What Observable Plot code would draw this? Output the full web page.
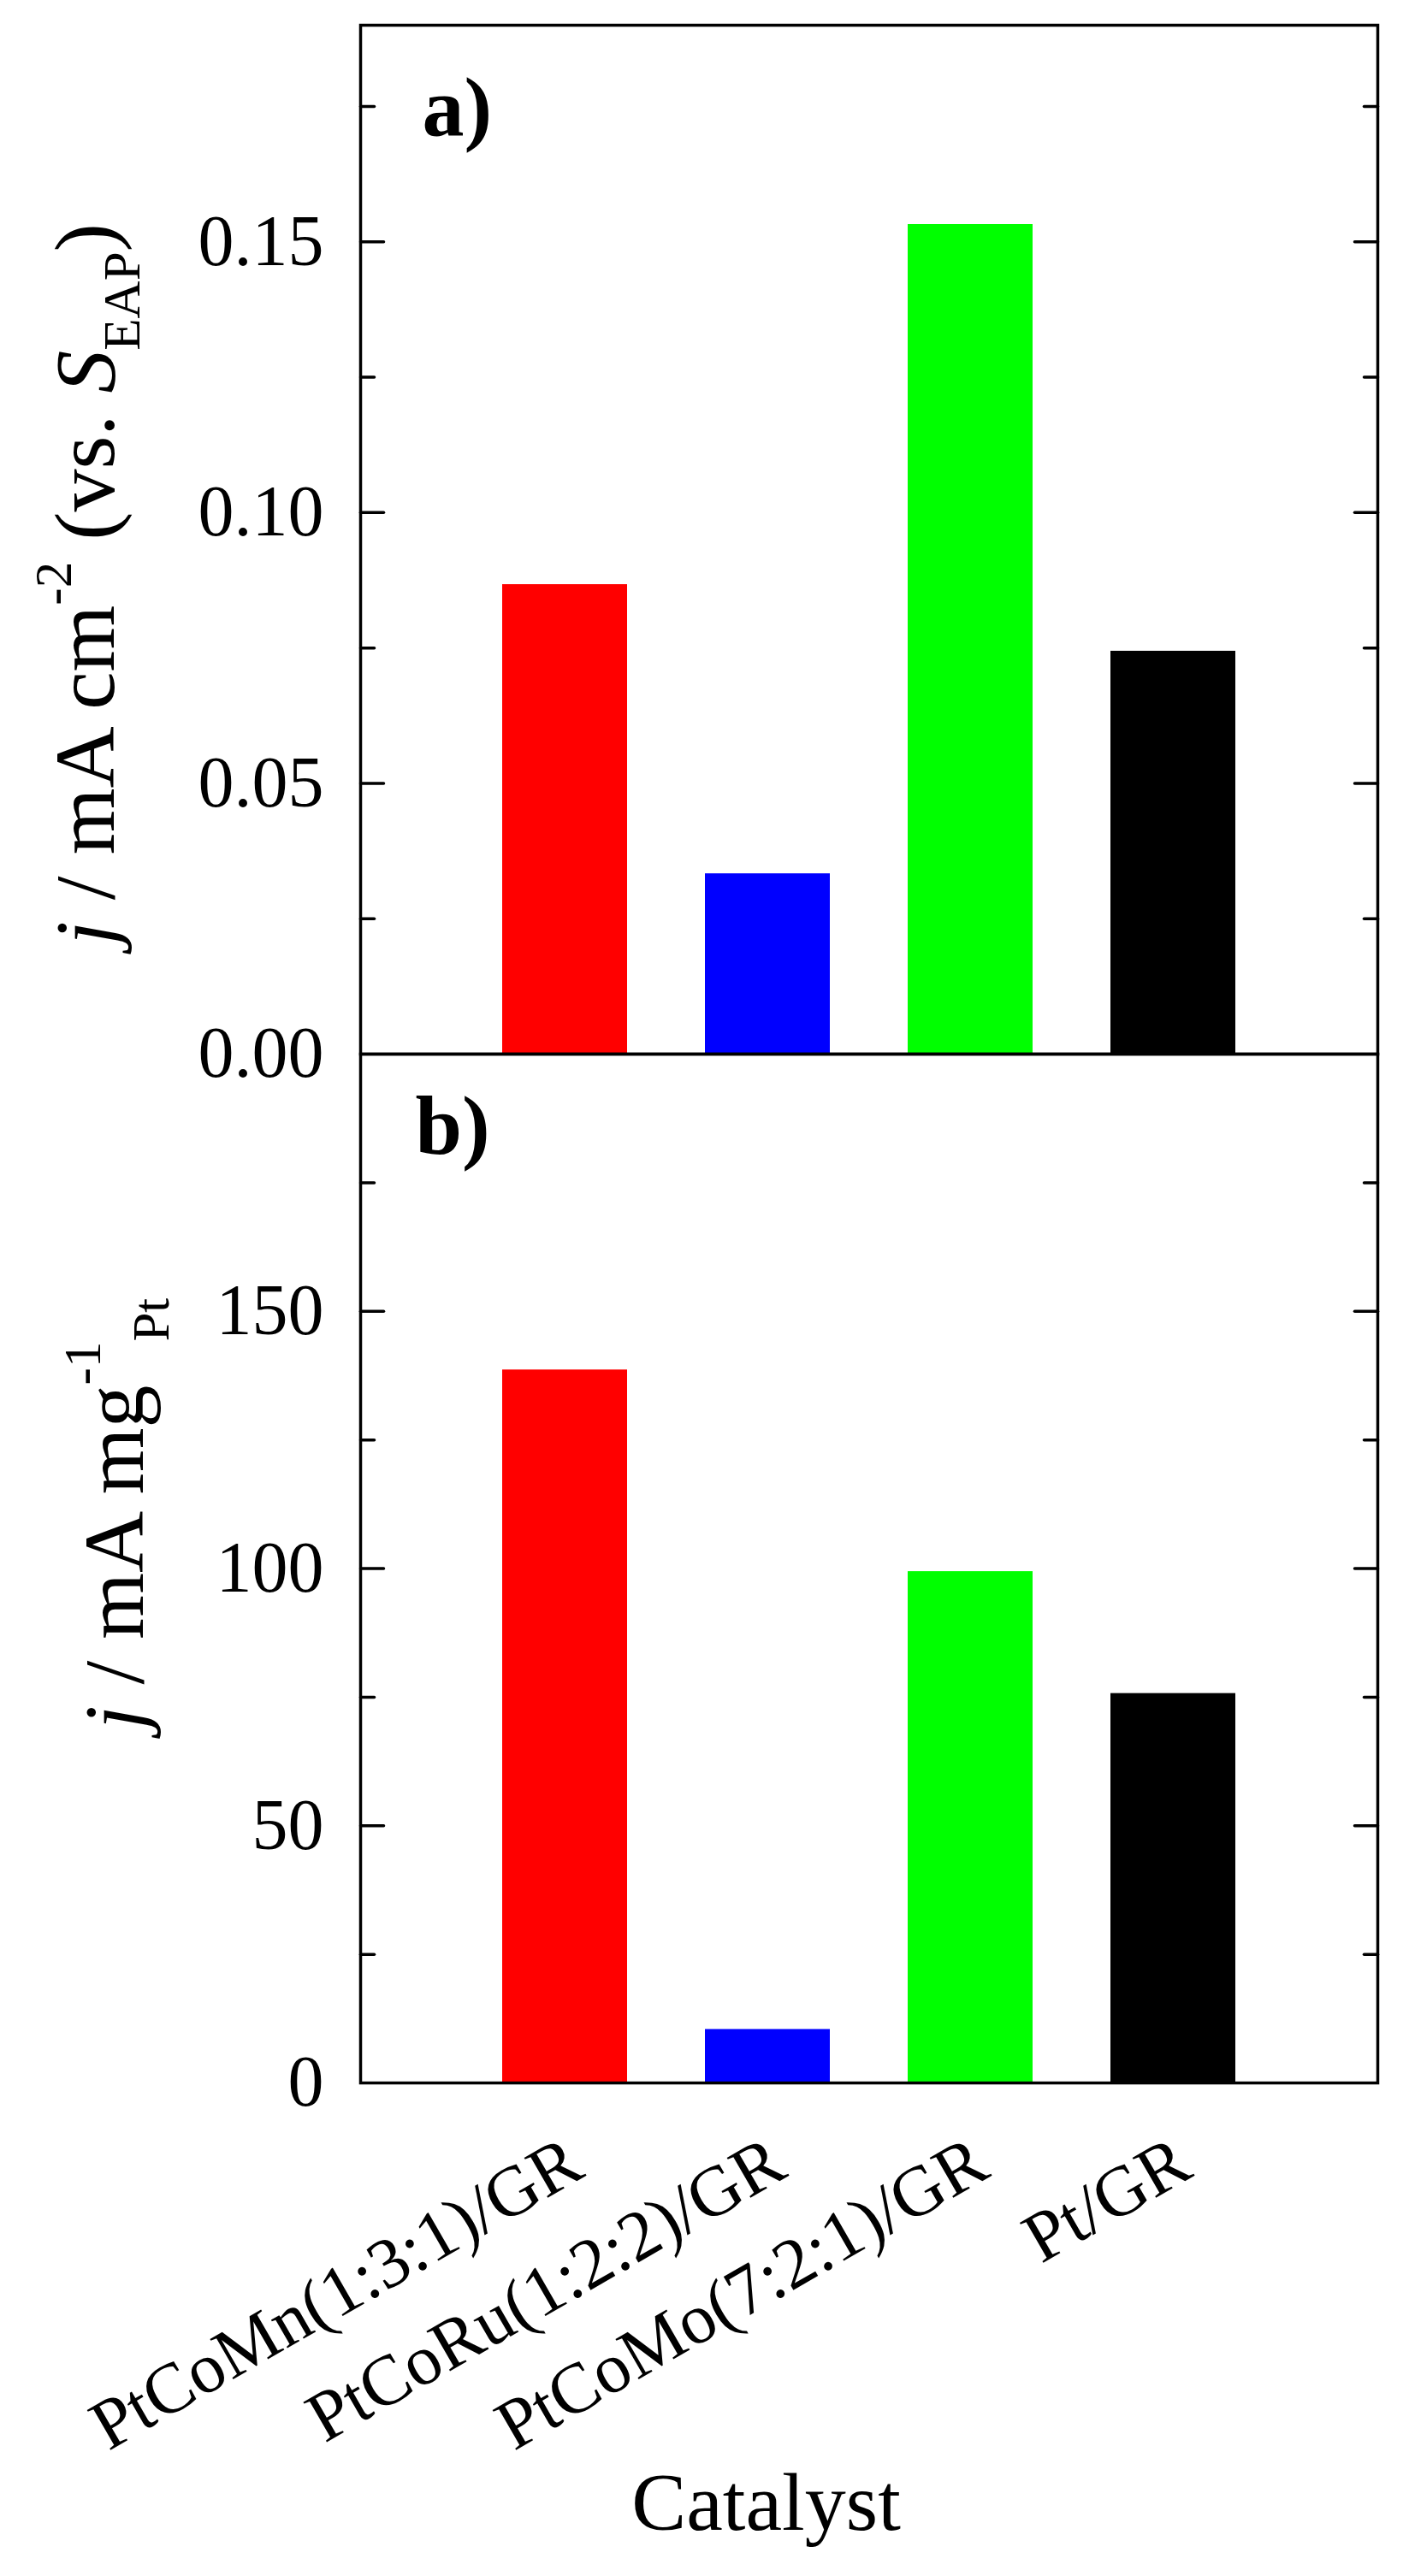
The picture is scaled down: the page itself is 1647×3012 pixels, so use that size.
<!DOCTYPE html>
<html>
<head>
<meta charset="utf-8">
<script src="https://cdn.jsdelivr.net/npm/d3@7"></script>
<script src="https://cdn.jsdelivr.net/npm/@observablehq/plot@0.6"></script>
<style>
  html, body { margin: 0; padding: 0; background: #fff; }
  #wrap { position: relative; width: 1647px; height: 3012px; }
  #wrap svg { position: absolute; left: 0; overflow: visible; background: transparent; }
</style>
</head>
<body>
<div id="wrap"></div>
<script>
// ---- data ----
const catalysts = ["PtCoMn(1:3:1)/GR", "PtCoRu(1:2:2)/GR", "PtCoMo(7:2:1)/GR", "Pt/GR"];
const barColors = ["#ff0000", "#0000ff", "#00ff00", "#000000"];
const specificActivity = [0.0867, 0.0333, 0.1532, 0.0744];   // panel a, mA cm^-2 (vs. S_EAP)
const massActivity = [138.6, 10.4, 99.4, 75.7];               // panel b, mA mg^-1 Pt
const yLabelsA = [0, 0.05, 0.10, 0.15];
const yMajorA = [0.05, 0.10, 0.15];
const yMinorA = [0.025, 0.075, 0.125, 0.175];
const yLabelsB = [0, 50, 100, 150];
const yMajorB = [50, 100, 150];
const yMinorB = [25, 75, 125, 175];
const panelLetters = ["a)", "b)"];
const xTitle = "Catalyst";

// ---- layout ----
const W = 1647, H = 3012;
const frameLeft = 421, frameRight = 1610, frameTop = 29, frameMid = 1232, frameBottom = 2435;
const FONT = "'Liberation Serif', 'Times New Roman', Times, serif";

const dataA = catalysts.map((c, i) => ({catalyst: c, value: specificActivity[i]}));
const dataB = catalysts.map((c, i) => ({catalyst: c, value: massActivity[i]}));

const xScale = {type: "band", domain: catalysts, paddingInner: 0.386, paddingOuter: 0.693};
const colorScale = {domain: catalysts, range: barColors};

const tickShape = {draw(context, l) { context.moveTo(0, 0); context.lineTo(0, -l); }};
function sideTicks(values, len) {
  return [
    Plot.vector(values, {y: d => d, frameAnchor: "left", rotate: 90, length: len, anchor: "start",
      shape: tickShape, stroke: "black", strokeWidth: 3.5}),
    Plot.vector(values, {y: d => d, frameAnchor: "right", rotate: -90, length: len, anchor: "start",
      shape: tickShape, stroke: "black", strokeWidth: 3.5})
  ];
}

const plotA = Plot.plot({
  width: W, height: frameMid,
  marginLeft: frameLeft, marginRight: W - frameRight, marginTop: frameTop, marginBottom: 0,
  style: {fontFamily: FONT, background: "transparent", overflow: "visible"},
  x: {...xScale, axis: null},
  y: {domain: [0, 0.19]},
  color: colorScale,
  marks: [
    Plot.barY(dataA, {x: "catalyst", y: "value", fill: "catalyst"}),
    Plot.axisY(yLabelsA, {anchor: "left", tickSize: 0, tickPadding: 43, tickFormat: d3.format(".2f"),
      fontSize: 84, label: null, fill: "black"}),
    ...sideTicks(yMajorA, 27),
    ...sideTicks(yMinorA, 16),
    Plot.frame({stroke: "black", strokeWidth: 3.5}),
    Plot.text([panelLetters[0]], {frameAnchor: "top-left", dx: 72, dy: 128, fontSize: 98,
      fontWeight: "bold", textAnchor: "start", lineAnchor: "bottom", fill: "black"})
  ]
});

const hB = H - frameMid;
const plotB = Plot.plot({
  width: W, height: hB,
  marginLeft: frameLeft, marginRight: W - frameRight, marginTop: 0, marginBottom: H - frameBottom,
  style: {fontFamily: FONT, background: "transparent", overflow: "visible"},
  x: xScale,
  y: {domain: [0, 200]},
  color: colorScale,
  marks: [
    Plot.barY(dataB, {x: "catalyst", y: "value", fill: "catalyst"}),
    Plot.axisY(yLabelsB, {anchor: "left", tickSize: 0, tickPadding: 43, tickFormat: d3.format("d"),
      fontSize: 84, label: null, fill: "black"}),
    Plot.axisX({anchor: "bottom", tickSize: 0, tickPadding: 85, tickRotate: -30, dx: 12,
      textAnchor: "end", lineAnchor: "middle", fontSize: 83, label: null, fill: "black", stroke: "none"}),
    ...sideTicks(yMajorB, 27),
    ...sideTicks(yMinorB, 16),
    Plot.frame({stroke: "black", strokeWidth: 3.5}),
    Plot.text([panelLetters[1]], {frameAnchor: "top-left", dx: 64, dy: 116, fontSize: 98,
      fontWeight: "bold", textAnchor: "start", lineAnchor: "bottom", fill: "black"}),
    Plot.text([xTitle], {frameAnchor: "bottom", dx: 895 - (frameLeft + frameRight) / 2, dy: 2957 - frameBottom,
      fontSize: 96, textAnchor: "middle", lineAnchor: "bottom", fill: "black"})
  ]
});

function richLabel(svg, x, y, parts) {
  const t = d3.select(svg).append("text")
    .attr("transform", `translate(${x},${y}) rotate(-90)`)
    .attr("text-anchor", "middle")
    .attr("font-family", FONT)
    .attr("font-size", 100)
    .attr("fill", "black");
  let shift = 0;
  for (const p of parts) {
    const ts = t.append("tspan").text(p.text);
    if (p.italic) ts.attr("font-style", "italic");
    const target = p.sup ? -50 : p.sub ? 30 : 0;
    if (target !== shift) { ts.attr("dy", target - shift); shift = target; }
    if (p.sup || p.sub) ts.attr("font-size", 61);
  }
}

richLabel(plotA, 133, 683, [
  {text: "j", italic: true}, {text: " / mA cm"}, {text: "-2", sup: true},
  {text: " (vs. "}, {text: "S", italic: true}, {text: "EAP", sub: true}, {text: ")"}
]);
richLabel(plotB, 167, 1770 - frameMid, [
  {text: "j", italic: true}, {text: " / mA mg"}, {text: "-1", sup: true}, {text: "Pt", sub: true}
]);

plotA.style.top = "0px";
plotB.style.top = frameMid + "px";
const wrap = document.getElementById("wrap");
wrap.appendChild(plotA);
wrap.appendChild(plotB);
</script>
</body>
</html>
